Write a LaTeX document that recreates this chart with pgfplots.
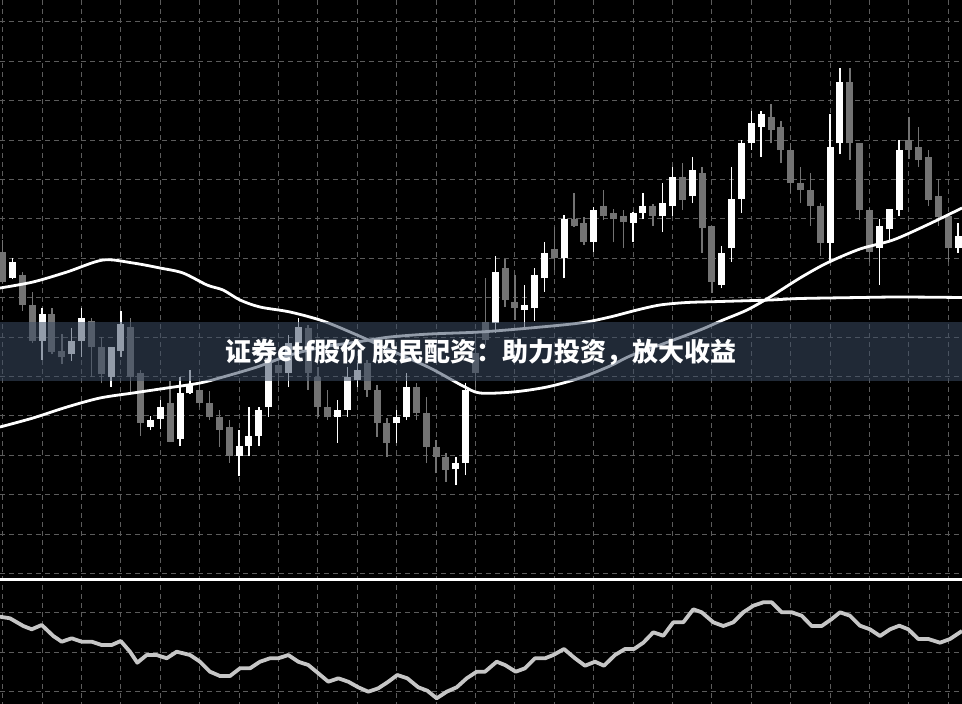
\documentclass[border=0pt]{standalone}
\usepackage{fontspec}
\usepackage{pgfplots}
\usepackage{pgfplotstable}
\pgfplotsset{compat=1.18}
\newfontfamily\cjk{Noto Sans CJK SC}
\definecolor{bear}{RGB}{115,115,115}
\definecolor{gridc}{RGB}{92,92,92}
\definecolor{osc}{RGB}{198,198,198}
\definecolor{banner}{RGB}{60,76,100}

% candles: index, high, low, body top, body bottom (pixel rows, 0 = top)
\pgfplotstableread{
i h l t b
1 258.3 279 261.7 278.3
4 308.3 360 314.3 340.7
7 327.7 360.7 341 354
8 308.3 356.7 317.7 340.7
11 347 386.7 347.3 376.7
12 311 356.7 324.3 350.7
15 416 430 420 426.7
16 400 429.3 406.7 419.3
18 376.7 446 393.3 439.3
19 370 394 384 393.3
24 430 476 446 456
25 406.7 456 436 446
26 406.7 446 410 436
27 350 416.7 358 406.7
29 335 387 343 373
30 318 350 327 343
34 400 442.7 410 416.7
35 366.7 416.7 376.7 410
36 363 386.7 370 380
40 410 443.3 416.7 423.3
41 373.3 420 386.7 416.7
46 456.7 485 462.7 469.3
47 383.3 475 390 462.7
50 256 333 271.7 323.3
53 285 326.7 305 310
54 268.3 321 275 308.3
55 242 291.7 252.5 278.3
57 215 278.3 219.3 258.3
60 206.7 251.7 210 241.7
64 212 241.7 212.7 222.7
65 193.3 219 206 212.7
67 183.3 232 203 216
68 167 216 176.7 206
70 156.7 203 170 196
73 246 288.3 252.7 285
74 166.7 261.7 199.3 248.3
75 140 212.7 143.3 199.3
76 110.7 150 123.3 143.3
77 110.7 156.7 114 126.7
84 114 261.7 147.3 242.7
85 68.3 154 81.7 143.3
89 219.3 285 226 248.3
90 209 240 209.3 229.3
91 140 216 150 210
97 222.7 252.7 236 248.3
}\upcandles

\pgfplotstableread{
i h l t b
0 240 283 251.7 281.7
2 272.3 311 275 305
3 291.7 343 305 340.7
5 308.3 354 314.3 351.7
6 334.3 364 350.7 357.3
9 317.7 376.7 321 347.3
10 336.7 383.3 347.3 374
13 317.7 393.3 327.3 376.7
14 370 436 373.3 422.7
17 380.7 442.3 403.3 442
20 384 406.7 390 403.3
21 390.7 420 403.3 416.7
22 410 446.7 416.7 430
23 420 462.7 426.7 456
28 355 386 365 373
31 325 390 328 373
32 366.7 416.7 376.7 406.7
33 390 420 406.7 416.7
37 360 396.7 363 390
38 385 436.7 390 423.3
39 418 456.7 423.3 443.3
42 383.3 420 386.7 413.3
43 396.7 463.3 413.3 446.7
44 440 473.3 446.7 456.7
45 453 481.7 456.7 470
48 335 386.7 353.3 373.3
49 278.3 345 322 340
51 259.3 307 268.3 300
52 275 320 301.7 308
56 227 270 248.5 258.3
58 193 227 219.3 226
59 216.7 245 223 241.7
61 190 220 206.3 215.5
62 209 242.3 212.7 219
63 209.5 248.3 216.3 222.3
66 204 226 206.3 215.5
69 163.3 209.5 176.7 199.5
71 167 252.5 173.3 228.3
72 226 293 226 281.7
78 104 143.3 117.3 130
79 120.7 163.3 127.3 150
80 142.7 193.3 150 183.3
81 166.7 203.3 183.3 190
82 173.3 226 190 206
83 203.3 256 206 242.7
86 68.3 160 81.7 143.3
87 143.3 220 143.3 210
88 208 261.7 210 251.7
92 116.7 159.3 140 150
93 126.7 166.7 147.3 160
94 150 206 156.7 200
95 179.3 226 196 216.7
96 214 261.7 216 248.3
}\downcandles

\begin{document}
\begin{tikzpicture}
\begin{axis}[
  width=962pt, height=704pt, scale only axis,
  xmin=0, xmax=962, ymin=0, ymax=704, y dir=reverse,
  axis background/.style={fill=black},
  axis line style={draw=none},
  xtick={2.7,42.1,...,950}, ytick={21.9,61.3,...,700},
  xticklabels={}, yticklabels={},
  major tick length=0pt,
  grid=major,
  major grid style={draw=gridc, line width=0.9pt, dash pattern=on 5pt off 4pt},
]

% wicks
\addplot[draw=none, mark=none, forget plot, error bars/.cd, y dir=minus, y explicit, error mark=none,
  error bar style={draw=white, line width=1.4pt}]
  table[x expr=2.7+9.85*\thisrow{i}, y=l, y error minus expr=\thisrow{l}-\thisrow{h}] {\upcandles};
\addplot[draw=none, mark=none, forget plot, error bars/.cd, y dir=minus, y explicit, error mark=none,
  error bar style={draw=bear, line width=1.4pt}]
  table[x expr=2.7+9.85*\thisrow{i}, y=l, y error minus expr=\thisrow{l}-\thisrow{h}] {\downcandles};
% bodies
\addplot[draw=none, mark=none, forget plot, error bars/.cd, y dir=minus, y explicit, error mark=none,
  error bar style={draw=white, line width=7pt}]
  table[x expr=2.7+9.85*\thisrow{i}, y=b, y error minus expr=\thisrow{b}-\thisrow{t}] {\upcandles};
\addplot[draw=none, mark=none, forget plot, error bars/.cd, y dir=minus, y explicit, error mark=none,
  error bar style={draw=bear, line width=7pt}]
  table[x expr=2.7+9.85*\thisrow{i}, y=b, y error minus expr=\thisrow{b}-\thisrow{t}] {\downcandles};

% fast moving average
\addplot[white, line width=2.8pt, smooth, mark=none] coordinates {
(0,288) (33,282) (67,272) (103,260) (133,263) (160,268) (183,273) (207,285) (223,290)
(240,300) (260,307) (290,312) (323,321) (357,335) (390,350) (430,368) (463,386) (480,393)
(513,392) (547,387) (580,378) (610,366) (630,356) (660,345) (700,330) (723,320) (747,310)
(770,297) (800,278) (827,263) (860,249) (893,240) (927,225) (962,208)};
% slow moving average
\addplot[white, line width=2.8pt, smooth, mark=none] coordinates {
(0,427) (33,418) (67,407) (100,398) (133,393) (167,388) (200,383) (223,377) (257,367)
(290,355) (323,347) (357,342) (390,337) (430,334) (480,332) (530,328) (580,323) (610,317)
(637,310) (660,305) (687,302.5) (720,301.5) (770,300) (800,298.5) (860,297.5) (900,297) (962,297.5)};

% panel separator
\addplot[white, line width=3pt, mark=none] coordinates {(0,579) (962,579)};

% oscillator
\addplot[osc, line width=3.8pt, mark=none, line join=round] coordinates {
(0,616.7) (10,618.3) (23.3,626) (31.7,629.3) (41.7,625) (53.3,636) (61.7,641.7) (71.7,638.3)
(81.7,641.7) (91.7,641.7) (101.7,645) (111.7,645) (120.7,641) (130,651.7) (137.3,662.7)
(146.7,655) (156.7,655) (166.7,658.3) (176.7,651.7) (190,655) (200,661.7) (210,671.7)
(220,676) (230,676) (240,668.3) (250,668.3) (260,661.7) (270,658.3) (278.3,658.3) (288.3,655)
(298.3,661.7) (308.3,665) (318.3,673.3) (328.3,681.7) (338.3,678.3) (348.3,681.7) (358.3,687.3)
(368.3,691.7) (378.3,688.3) (388.3,681.7) (397.3,675) (407.3,678.3) (418.3,687.3) (427.3,690.7)
(436.7,698.3) (446.7,691.7) (456.7,687.3) (466.7,678.3) (476.7,671.7) (485,671.7) (496.7,661.7)
(505,665) (515.7,671.7) (525,668.3) (535,658.3) (545,658.3) (553.3,655) (564,649) (575,658.3)
(585,665.7) (595,661.7) (604,665.7) (615,655) (625,649) (634,649) (643.3,642.7) (653.3,632.3)
(663.3,635.7) (673.3,622.3) (683.3,622.3) (693.3,609.3) (701.7,612.3) (713.3,622.3) (723.3,626)
(733.3,622.3) (743.3,612.3) (753.3,605.7) (763.3,602.3) (771.7,602.3) (781.7,612.3) (791.7,612.3)
(801.7,615.7) (811.7,626) (821.7,626) (831.7,619) (840,612.3) (850,615.7) (860,625.7) (870,629.3)
(880,636) (890,629.3) (899.3,625.7) (908.3,629.3) (918.3,639) (928.3,639) (940,642.7) (950,639)
(962,631)};

% title banner
\fill[banner, opacity=0.55] (axis cs:0,322) rectangle (axis cs:962,381);
\node[text=white, font=\cjk\bfseries\fontsize{26}{30}\selectfont] at (axis cs:481,352)
  {证券etf股价 股民配资：助力投资，放大收益};
\end{axis}
\pgfresetboundingbox
\path (0,0) rectangle (962pt,704pt);
\end{tikzpicture}
\end{document}
